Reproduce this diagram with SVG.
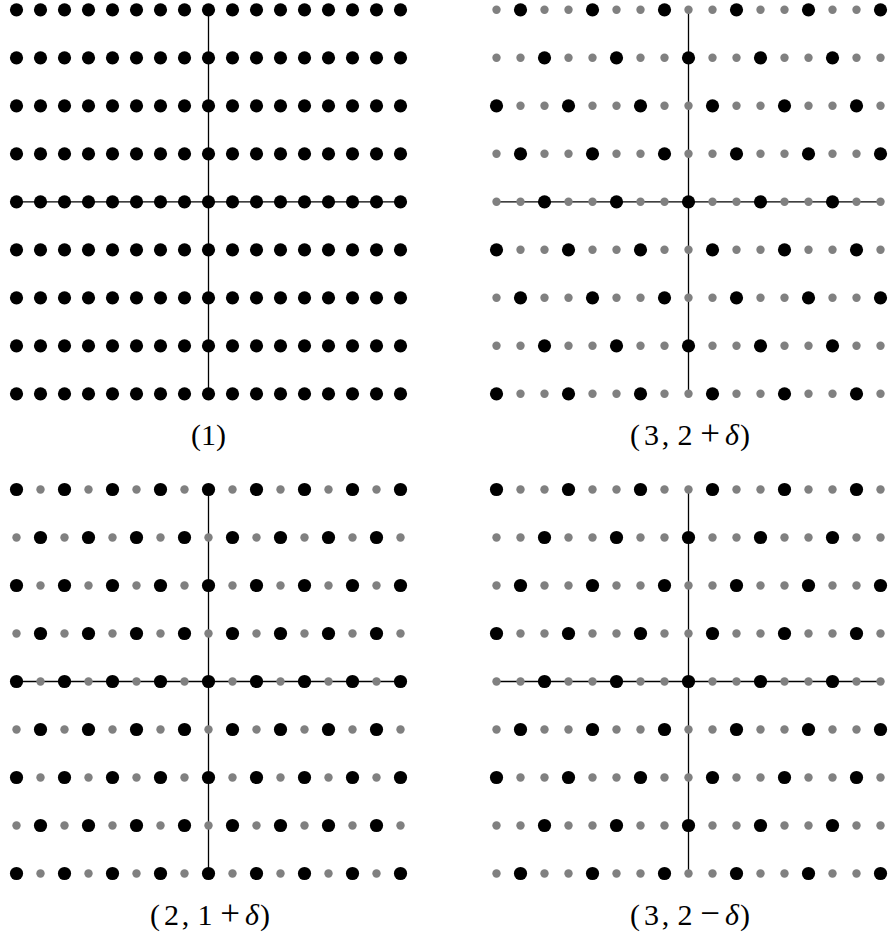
<svg xmlns="http://www.w3.org/2000/svg" xmlns:xlink="http://www.w3.org/1999/xlink" width="889" height="934" viewBox="0 0 889 934">
<style>
.b{fill:#000}
.g{fill:#808080}
.ax{stroke:#000;stroke-width:1.3;fill:none}
.lbl{font-family:"Liberation Serif","DejaVu Serif",serif;font-size:30px;fill:#000;text-anchor:middle}
.it{font-style:italic}
.op{font-size:35px}
</style>
<defs>
<g id="rowA">
<circle class="b" cx="0" cy="0" r="6.6"/><circle class="b" cx="24" cy="0" r="6.6"/><circle class="b" cx="48" cy="0" r="6.6"/><circle class="b" cx="72" cy="0" r="6.6"/><circle class="b" cx="96" cy="0" r="6.6"/><circle class="b" cx="120" cy="0" r="6.6"/><circle class="b" cx="144" cy="0" r="6.6"/><circle class="b" cx="168" cy="0" r="6.6"/><circle class="b" cx="192" cy="0" r="6.6"/><circle class="b" cx="216" cy="0" r="6.6"/><circle class="b" cx="240" cy="0" r="6.6"/><circle class="b" cx="264" cy="0" r="6.6"/><circle class="b" cx="288" cy="0" r="6.6"/><circle class="b" cx="312" cy="0" r="6.6"/><circle class="b" cx="336" cy="0" r="6.6"/><circle class="b" cx="360" cy="0" r="6.6"/><circle class="b" cx="384" cy="0" r="6.6"/>
</g>
<g id="rowT0">
<circle class="b" cx="0" cy="0" r="6.6"/><circle class="g" cx="24" cy="0" r="4.2"/><circle class="g" cx="48" cy="0" r="4.2"/><circle class="b" cx="72" cy="0" r="6.6"/><circle class="g" cx="96" cy="0" r="4.2"/><circle class="g" cx="120" cy="0" r="4.2"/><circle class="b" cx="144" cy="0" r="6.6"/><circle class="g" cx="168" cy="0" r="4.2"/><circle class="g" cx="192" cy="0" r="4.2"/><circle class="b" cx="216" cy="0" r="6.6"/><circle class="g" cx="240" cy="0" r="4.2"/><circle class="g" cx="264" cy="0" r="4.2"/><circle class="b" cx="288" cy="0" r="6.6"/><circle class="g" cx="312" cy="0" r="4.2"/><circle class="g" cx="336" cy="0" r="4.2"/><circle class="b" cx="360" cy="0" r="6.6"/><circle class="g" cx="384" cy="0" r="4.2"/>
</g>
<g id="rowT1">
<circle class="g" cx="0" cy="0" r="4.2"/><circle class="b" cx="24" cy="0" r="6.6"/><circle class="g" cx="48" cy="0" r="4.2"/><circle class="g" cx="72" cy="0" r="4.2"/><circle class="b" cx="96" cy="0" r="6.6"/><circle class="g" cx="120" cy="0" r="4.2"/><circle class="g" cx="144" cy="0" r="4.2"/><circle class="b" cx="168" cy="0" r="6.6"/><circle class="g" cx="192" cy="0" r="4.2"/><circle class="g" cx="216" cy="0" r="4.2"/><circle class="b" cx="240" cy="0" r="6.6"/><circle class="g" cx="264" cy="0" r="4.2"/><circle class="g" cx="288" cy="0" r="4.2"/><circle class="b" cx="312" cy="0" r="6.6"/><circle class="g" cx="336" cy="0" r="4.2"/><circle class="g" cx="360" cy="0" r="4.2"/><circle class="b" cx="384" cy="0" r="6.6"/>
</g>
<g id="rowT2">
<circle class="g" cx="0" cy="0" r="4.2"/><circle class="g" cx="24" cy="0" r="4.2"/><circle class="b" cx="48" cy="0" r="6.6"/><circle class="g" cx="72" cy="0" r="4.2"/><circle class="g" cx="96" cy="0" r="4.2"/><circle class="b" cx="120" cy="0" r="6.6"/><circle class="g" cx="144" cy="0" r="4.2"/><circle class="g" cx="168" cy="0" r="4.2"/><circle class="b" cx="192" cy="0" r="6.6"/><circle class="g" cx="216" cy="0" r="4.2"/><circle class="g" cx="240" cy="0" r="4.2"/><circle class="b" cx="264" cy="0" r="6.6"/><circle class="g" cx="288" cy="0" r="4.2"/><circle class="g" cx="312" cy="0" r="4.2"/><circle class="b" cx="336" cy="0" r="6.6"/><circle class="g" cx="360" cy="0" r="4.2"/><circle class="g" cx="384" cy="0" r="4.2"/>
</g>
<g id="rowE">
<circle class="b" cx="0" cy="0" r="6.6"/><circle class="g" cx="24" cy="0" r="4.2"/><circle class="b" cx="48" cy="0" r="6.6"/><circle class="g" cx="72" cy="0" r="4.2"/><circle class="b" cx="96" cy="0" r="6.6"/><circle class="g" cx="120" cy="0" r="4.2"/><circle class="b" cx="144" cy="0" r="6.6"/><circle class="g" cx="168" cy="0" r="4.2"/><circle class="b" cx="192" cy="0" r="6.6"/><circle class="g" cx="216" cy="0" r="4.2"/><circle class="b" cx="240" cy="0" r="6.6"/><circle class="g" cx="264" cy="0" r="4.2"/><circle class="b" cx="288" cy="0" r="6.6"/><circle class="g" cx="312" cy="0" r="4.2"/><circle class="b" cx="336" cy="0" r="6.6"/><circle class="g" cx="360" cy="0" r="4.2"/><circle class="b" cx="384" cy="0" r="6.6"/>
</g>
<g id="rowO">
<circle class="g" cx="0" cy="0" r="4.2"/><circle class="b" cx="24" cy="0" r="6.6"/><circle class="g" cx="48" cy="0" r="4.2"/><circle class="b" cx="72" cy="0" r="6.6"/><circle class="g" cx="96" cy="0" r="4.2"/><circle class="b" cx="120" cy="0" r="6.6"/><circle class="g" cx="144" cy="0" r="4.2"/><circle class="b" cx="168" cy="0" r="6.6"/><circle class="g" cx="192" cy="0" r="4.2"/><circle class="b" cx="216" cy="0" r="6.6"/><circle class="g" cx="240" cy="0" r="4.2"/><circle class="b" cx="264" cy="0" r="6.6"/><circle class="g" cx="288" cy="0" r="4.2"/><circle class="b" cx="312" cy="0" r="6.6"/><circle class="g" cx="336" cy="0" r="4.2"/><circle class="b" cx="360" cy="0" r="6.6"/><circle class="g" cx="384" cy="0" r="4.2"/>
</g>
</defs>
<rect width="889" height="934" fill="#fff"/>
<g id="axes">
<line class="ax" x1="208.5" y1="9.8" x2="208.5" y2="393.8"/>
<line class="ax" x1="16.5" y1="201.8" x2="400.5" y2="201.8"/>
<line class="ax" x1="688.5" y1="9.8" x2="688.5" y2="393.8"/>
<line class="ax" x1="496.5" y1="201.8" x2="880.5" y2="201.8"/>
<line class="ax" x1="208.5" y1="489.5" x2="208.5" y2="873.5"/>
<line class="ax" x1="16.5" y1="681.5" x2="400.5" y2="681.5"/>
<line class="ax" x1="688.5" y1="489.5" x2="688.5" y2="873.5"/>
<line class="ax" x1="496.5" y1="681.5" x2="880.5" y2="681.5"/>
</g>
<g id="panel1">
<use xlink:href="#rowA" href="#rowA" x="16.5" y="9.8"/>
<use xlink:href="#rowA" href="#rowA" x="16.5" y="57.8"/>
<use xlink:href="#rowA" href="#rowA" x="16.5" y="105.8"/>
<use xlink:href="#rowA" href="#rowA" x="16.5" y="153.8"/>
<use xlink:href="#rowA" href="#rowA" x="16.5" y="201.8"/>
<use xlink:href="#rowA" href="#rowA" x="16.5" y="249.8"/>
<use xlink:href="#rowA" href="#rowA" x="16.5" y="297.8"/>
<use xlink:href="#rowA" href="#rowA" x="16.5" y="345.8"/>
<use xlink:href="#rowA" href="#rowA" x="16.5" y="393.8"/>
<text class="lbl" y="445"><tspan x="196">(</tspan><tspan x="208.5">1</tspan><tspan x="221">)</tspan></text>
</g>
<g id="panel2">
<use href="#rowT1" x="496.5" y="9.8"/>
<use href="#rowT2" x="496.5" y="57.8"/>
<use href="#rowT0" x="496.5" y="105.8"/>
<use href="#rowT1" x="496.5" y="153.8"/>
<use href="#rowT2" x="496.5" y="201.8"/>
<use href="#rowT0" x="496.5" y="249.8"/>
<use href="#rowT1" x="496.5" y="297.8"/>
<use href="#rowT2" x="496.5" y="345.8"/>
<use href="#rowT0" x="496.5" y="393.8"/>
<text class="lbl" y="445"><tspan x="635">(</tspan><tspan x="651.5">3</tspan><tspan x="665.5">,</tspan><tspan x="685">2</tspan><tspan class="op" x="710">+</tspan><tspan class="it" x="732">δ</tspan><tspan x="745">)</tspan></text>
</g>
<g id="panel3">
<use href="#rowE" x="16.5" y="489.5"/>
<use href="#rowO" x="16.5" y="537.5"/>
<use href="#rowE" x="16.5" y="585.5"/>
<use href="#rowO" x="16.5" y="633.5"/>
<use href="#rowE" x="16.5" y="681.5"/>
<use href="#rowO" x="16.5" y="729.5"/>
<use href="#rowE" x="16.5" y="777.5"/>
<use href="#rowO" x="16.5" y="825.5"/>
<use href="#rowE" x="16.5" y="873.5"/>
<text class="lbl" y="925"><tspan x="155">(</tspan><tspan x="171.5">2</tspan><tspan x="185.5">,</tspan><tspan x="205">1</tspan><tspan class="op" x="230">+</tspan><tspan class="it" x="252">δ</tspan><tspan x="265">)</tspan></text>
</g>
<g id="panel4">
<use href="#rowT0" x="496.5" y="489.5"/>
<use href="#rowT2" x="496.5" y="537.5"/>
<use href="#rowT1" x="496.5" y="585.5"/>
<use href="#rowT0" x="496.5" y="633.5"/>
<use href="#rowT2" x="496.5" y="681.5"/>
<use href="#rowT1" x="496.5" y="729.5"/>
<use href="#rowT0" x="496.5" y="777.5"/>
<use href="#rowT2" x="496.5" y="825.5"/>
<use href="#rowT1" x="496.5" y="873.5"/>
<text class="lbl" y="925"><tspan x="635">(</tspan><tspan x="651.5">3</tspan><tspan x="665.5">,</tspan><tspan x="685">2</tspan><tspan class="op" x="710">−</tspan><tspan class="it" x="732">δ</tspan><tspan x="745">)</tspan></text>
</g>
</svg>
